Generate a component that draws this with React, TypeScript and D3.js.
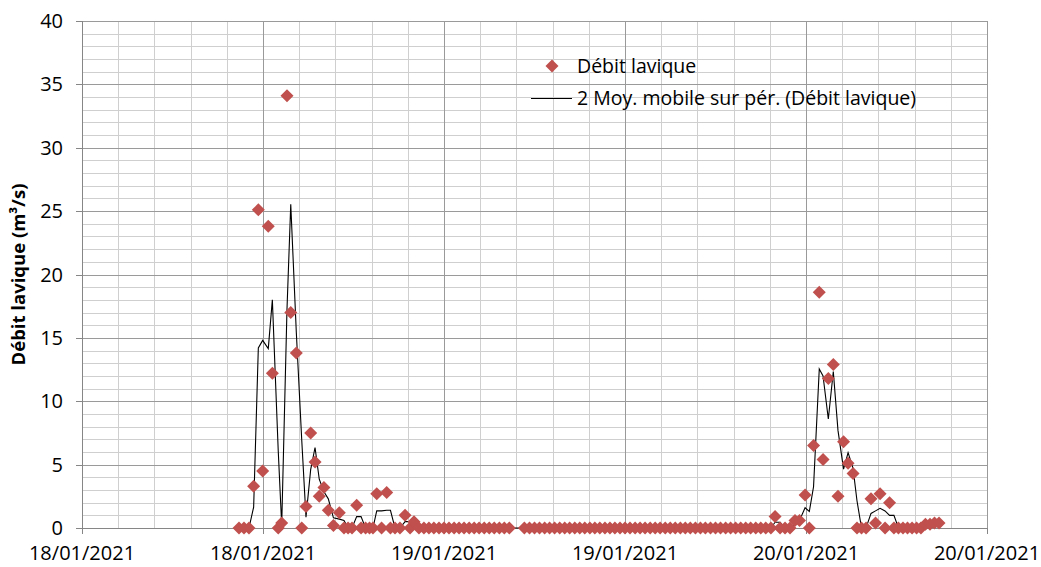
import React from 'react';
import * as d3 from 'd3';

// heures depuis le 18/01/2021 00:00
const eruption1Hours = [10.41, 10.74, 11.07, 11.38, 11.69, 11.98, 12.35, 12.62, 13.01, 13.24, 13.59, 13.84, 14.21, 14.57, 14.85, 15.16, 15.45, 15.73, 16.04, 16.33, 16.67, 17.06, 17.37, 17.64, 17.9, 18.21, 18.5, 18.8, 19.06, 19.29, 19.54, 19.86, 20.2, 20.45, 20.75, 21.08, 21.42, 21.75, 22.01, 22.34];
const eruption1Debit = [0, 0, 0, 3.3, 25.1, 4.5, 23.8, 12.2, 0, 0.4, 34.1, 17.0, 13.8, 0, 1.7, 7.5, 5.2, 2.5, 3.2, 1.4, 0.2, 1.2, 0, 0, 0, 1.8, 0, 0, 0, 0, 2.7, 0, 2.8, 0, 0, 0, 1.0, 0, 0.5, 0];

const calmHours = [22.67, 23.0, 23.33, 23.67, 24.0, 24.33, 24.67, 25.0, 25.33, 25.67, 26.0, 26.33, 26.67, 27.0, 27.33, 27.67, 28.0, 28.33,
  29.33, 29.67, 30.0, 30.33, 30.67, 31.0, 31.33, 31.67, 32.0, 32.33, 32.67, 33.0, 33.33, 33.67, 34.0, 34.33, 34.67, 35.0, 35.33, 35.67, 36.0, 36.33, 36.67, 37.0, 37.33, 37.67, 38.0, 38.33, 38.67, 39.0, 39.33, 39.67, 40.0, 40.33, 40.67, 41.0, 41.33, 41.67, 42.0, 42.33, 42.67, 43.0, 43.33, 43.67, 44.0, 44.33, 44.67, 45.0, 45.33];
const calmDebit = [0, 0, 0, 0, 0, 0, 0, 0, 0, 0, 0, 0, 0, 0, 0, 0, 0, 0,
  0, 0, 0, 0, 0, 0, 0, 0, 0, 0, 0, 0, 0, 0, 0, 0, 0, 0, 0, 0, 0, 0, 0, 0, 0, 0, 0, 0, 0, 0, 0, 0, 0, 0, 0, 0, 0, 0, 0, 0, 0, 0, 0, 0, 0, 0, 0, 0, 0];

const eruption2Hours = [45.67, 45.95, 46.28, 46.61, 46.94, 47.27, 47.57, 47.94, 48.22, 48.5, 48.88, 49.13, 49.48, 49.81, 50.12, 50.49, 50.79, 51.12, 51.38, 51.68, 51.98, 52.31, 52.61, 52.91, 53.24, 53.54, 53.83, 54.13, 54.43, 54.73, 55.03, 55.33, 55.62, 55.92, 56.22, 56.52, 56.82];
const eruption2Debit = [0, 0.9, 0, 0, 0, 0.6, 0.6, 2.6, 0, 6.5, 18.6, 5.4, 11.8, 12.9, 2.5, 6.8, 5.1, 4.3, 0, 0, 0, 2.3, 0.4, 2.7, 0, 2.0, 0, 0, 0, 0, 0, 0, 0, 0.3, 0.3, 0.4, 0.4];

const xTickLabels = ['18/01/2021', '18/01/2021', '19/01/2021', '19/01/2021', '20/01/2021', '20/01/2021'];
const yTickValues = [0, 5, 10, 15, 20, 25, 30, 35, 40];

const W = 1041;
const H = 567;
const left = 82, right = 987, top = 21, bottom = 528;
const font = '"Open Sans", Lato, sans-serif';
const red = '#c0504d';

export default function App() {
  const hours = [...eruption1Hours, ...calmHours, ...eruption2Hours];
  const debit = [...eruption1Debit, ...calmDebit, ...eruption2Debit];
  const pts = hours.map((h, i) => ({ h, v: debit[i] }));

  const x = d3.scaleLinear().domain([0, 60]).range([left, right]);
  const y = d3.scaleLinear().domain([0, 40]).range([bottom, top]);

  // moyenne mobile sur 2 périodes
  const ma = pts.slice(1).map((p, i) => ({ h: p.h, v: (pts[i].v + p.v) / 2 }));
  const line = d3.line<{ h: number; v: number }>().x(d => x(d.h)).y(d => y(d.v));

  const xMajor = d3.range(0, 60.01, 12);
  const xMinor = d3.range(0, 60.01, 2.4);
  const yMinor = d3.range(0, 40.01, 1);

  const diamond = 'M0,-6.5L6.5,0L0,6.5L-6.5,0Z';
  const px = (v: number) => Math.round(v) + 0.5;

  return (
    <div style={{ position: 'absolute', left: 0, top: 0 }}>
      <svg width={W} height={H} style={{ display: 'block', background: '#fff' }}>
        {/* grille secondaire */}
        <g stroke="#cfcfcf" strokeWidth={1}>
          {yMinor.map(v => (
            <line key={'ym' + v} x1={left} x2={right} y1={px(y(v))} y2={px(y(v))} />
          ))}
          {xMinor.map(v => (
            <line key={'xm' + v} y1={top} y2={bottom} x1={px(x(v))} x2={px(x(v))} />
          ))}
        </g>
        {/* grille principale */}
        <g stroke="#9a9a9a" strokeWidth={1}>
          {yTickValues.map(v => (
            <line key={'yM' + v} x1={left} x2={right} y1={px(y(v))} y2={px(y(v))} />
          ))}
          {xMajor.map(v => (
            <line key={'xM' + v} y1={top} y2={bottom} x1={px(x(v))} x2={px(x(v))} />
          ))}
        </g>
        {/* axes */}
        <g stroke="#868686" strokeWidth={1}>
          <line x1={left + 0.5} x2={left + 0.5} y1={top} y2={bottom + 0.5} />
          <line x1={left} x2={right} y1={bottom + 0.5} y2={bottom + 0.5} />
          {yTickValues.map(v => (
            <line key={'yt' + v} x1={left - 6} x2={left} y1={px(y(v))} y2={px(y(v))} />
          ))}
          {xMajor.map(v => (
            <line key={'xt' + v} x1={px(x(v))} x2={px(x(v))} y1={bottom} y2={bottom + 6} />
          ))}
        </g>
        <g fontFamily={font} fontSize={20} fill="#000">
          {yTickValues.map(v => (
            <text key={'yl' + v} x={left - 19} y={y(v)} dy="0.35em" textAnchor="end">{v}</text>
          ))}
          {xMajor.map((v, i) => (
            <text key={'xl' + v} x={x(v)} y={560} textAnchor="middle">{xTickLabels[i]}</text>
          ))}
        </g>
        <text transform={`translate(25,${(top + bottom) / 2}) rotate(-90)`} textAnchor="middle"
          fontFamily={font} fontSize={18.5} fontWeight="bold">
          Débit lavique (m³/s)
        </text>

        {/* courbe de tendance */}
        <path d={line(ma) || ''} fill="none" stroke="#000" strokeWidth={1.1} />
        {/* points */}
        <g fill={red}>
          {pts.map((p, i) => (
            <path key={i} d={diamond} transform={`translate(${x(p.h)},${y(p.v)})`} />
          ))}
        </g>

        {/* légende */}
        <g fontFamily={font} fontSize={19.5}>
          <path d={diamond} fill={red} transform="translate(552,66)" />
          <text x={577} y={66} dy="0.35em">Débit lavique</text>
          <line x1={531} x2={572} y1={98.5} y2={98.5} stroke="#000" strokeWidth={1.1} />
          <text x={577} y={98} dy="0.35em">2 Moy. mobile sur pér. (Débit lavique)</text>
        </g>
      </svg>
    </div>
  );
}
